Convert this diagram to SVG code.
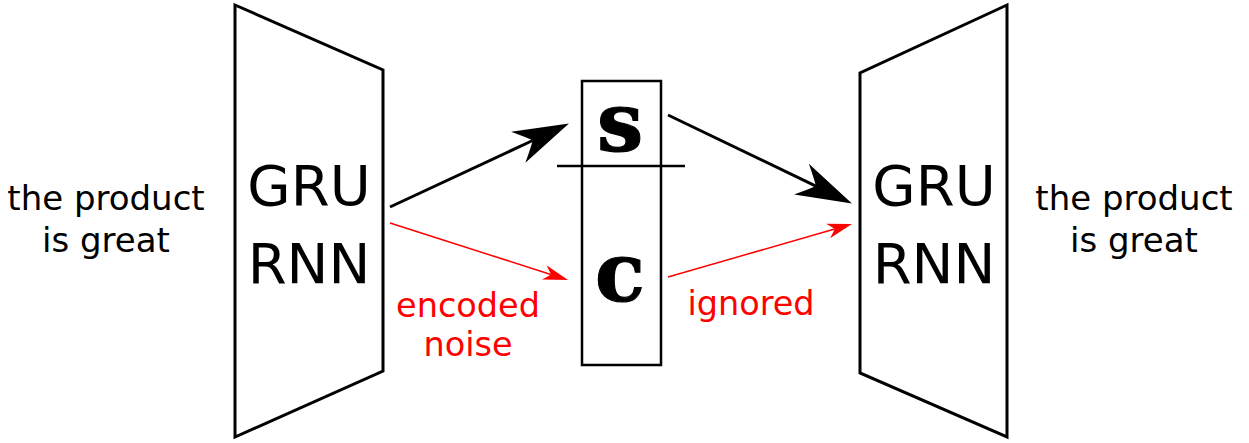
<svg xmlns="http://www.w3.org/2000/svg" width="1249" height="443" viewBox="0 0 1249 443">
  <style>
    .shape { fill: none; stroke: #000; stroke-width: 3; stroke-linejoin: miter; }
    .box { fill: none; stroke: #000; stroke-width: 2.5; }
    .label { font-family: "DejaVu Sans", "Liberation Sans", sans-serif; font-size: 34px; fill: #000; text-anchor: middle; }
    .big { font-family: "DejaVu Sans", "Liberation Sans", sans-serif; font-size: 56px; fill: #000; text-anchor: middle; }
    .note { font-family: "DejaVu Sans", "Liberation Sans", sans-serif; font-size: 33.5px; fill: #ff0000; text-anchor: middle; }
    .sym { font-family: "DejaVu Serif", "Liberation Serif", serif; font-weight: bold; font-size: 82px; fill: #000; stroke: #000; stroke-width: 1.2; text-anchor: middle; }
    .edge { stroke: #000; stroke-width: 3; fill: none; }
    .edge-red { stroke: #ff0000; stroke-width: 1.5; fill: none; }
  </style>
  <defs>
    <marker id="head" markerUnits="userSpaceOnUse" orient="auto" markerWidth="60" markerHeight="40" refX="0" refY="0" viewBox="-20 -20 60 40" overflow="visible">
      <path d="M40,0 L-16,-17 Q-4,-5 0,0 Q-4,5 -16,17 Z" fill="#000"/>
    </marker>
    <marker id="head-red" markerUnits="userSpaceOnUse" orient="auto" markerWidth="30" markerHeight="20" refX="0" refY="0" viewBox="-10 -10 30 20" overflow="visible">
      <path d="M18,0 L-7,-7.5 Q-2,-2.5 0,0 Q-2,2.5 -7,7.5 Z" fill="#ff0000"/>
    </marker>
  </defs>

  <g id="input-text">
    <text class="label" x="106" y="210">the product</text>
    <text class="label" x="106" y="252">is great</text>
  </g>

  <g id="encoder">
    <path class="shape" d="M235,5 L383,70 L383,371 L235,437 Z"/>
    <text class="big" x="309" y="205">GRU</text>
    <text class="big" x="309" y="283">RNN</text>
  </g>

  <g id="latent">
    <rect class="box" x="582" y="81" width="79" height="284"/>
    <line class="box" x1="557" y1="166" x2="685" y2="166"/>
    <text class="sym" x="620" y="151">s</text>
    <text class="sym" x="620" y="301">c</text>
  </g>

  <g id="decoder">
    <path class="shape" d="M1007,5 L860,73 L860,373 L1007,437 Z"/>
    <text class="big" x="934" y="205">GRU</text>
    <text class="big" x="934" y="283">RNN</text>
  </g>

  <g id="output-text">
    <text class="label" x="1134" y="210">the product</text>
    <text class="label" x="1134" y="252">is great</text>
  </g>

  <g id="connectors">
    <line class="edge" x1="390" y1="207" x2="532.7" y2="140.5" marker-end="url(#head)"/>
    <line class="edge" x1="668" y1="115" x2="815.9" y2="186.1" marker-end="url(#head)"/>
    <line class="edge-red" x1="390" y1="223" x2="550.9" y2="274.5" marker-end="url(#head-red)"/>
    <line class="edge-red" x1="668" y1="277" x2="834.7" y2="229" marker-end="url(#head-red)"/>
  </g>

  <g id="edge-labels">
    <text class="note" x="468" y="317">encoded</text>
    <text class="note" x="468" y="356">noise</text>
    <text class="note" x="751" y="315">ignored</text>
  </g>
</svg>
